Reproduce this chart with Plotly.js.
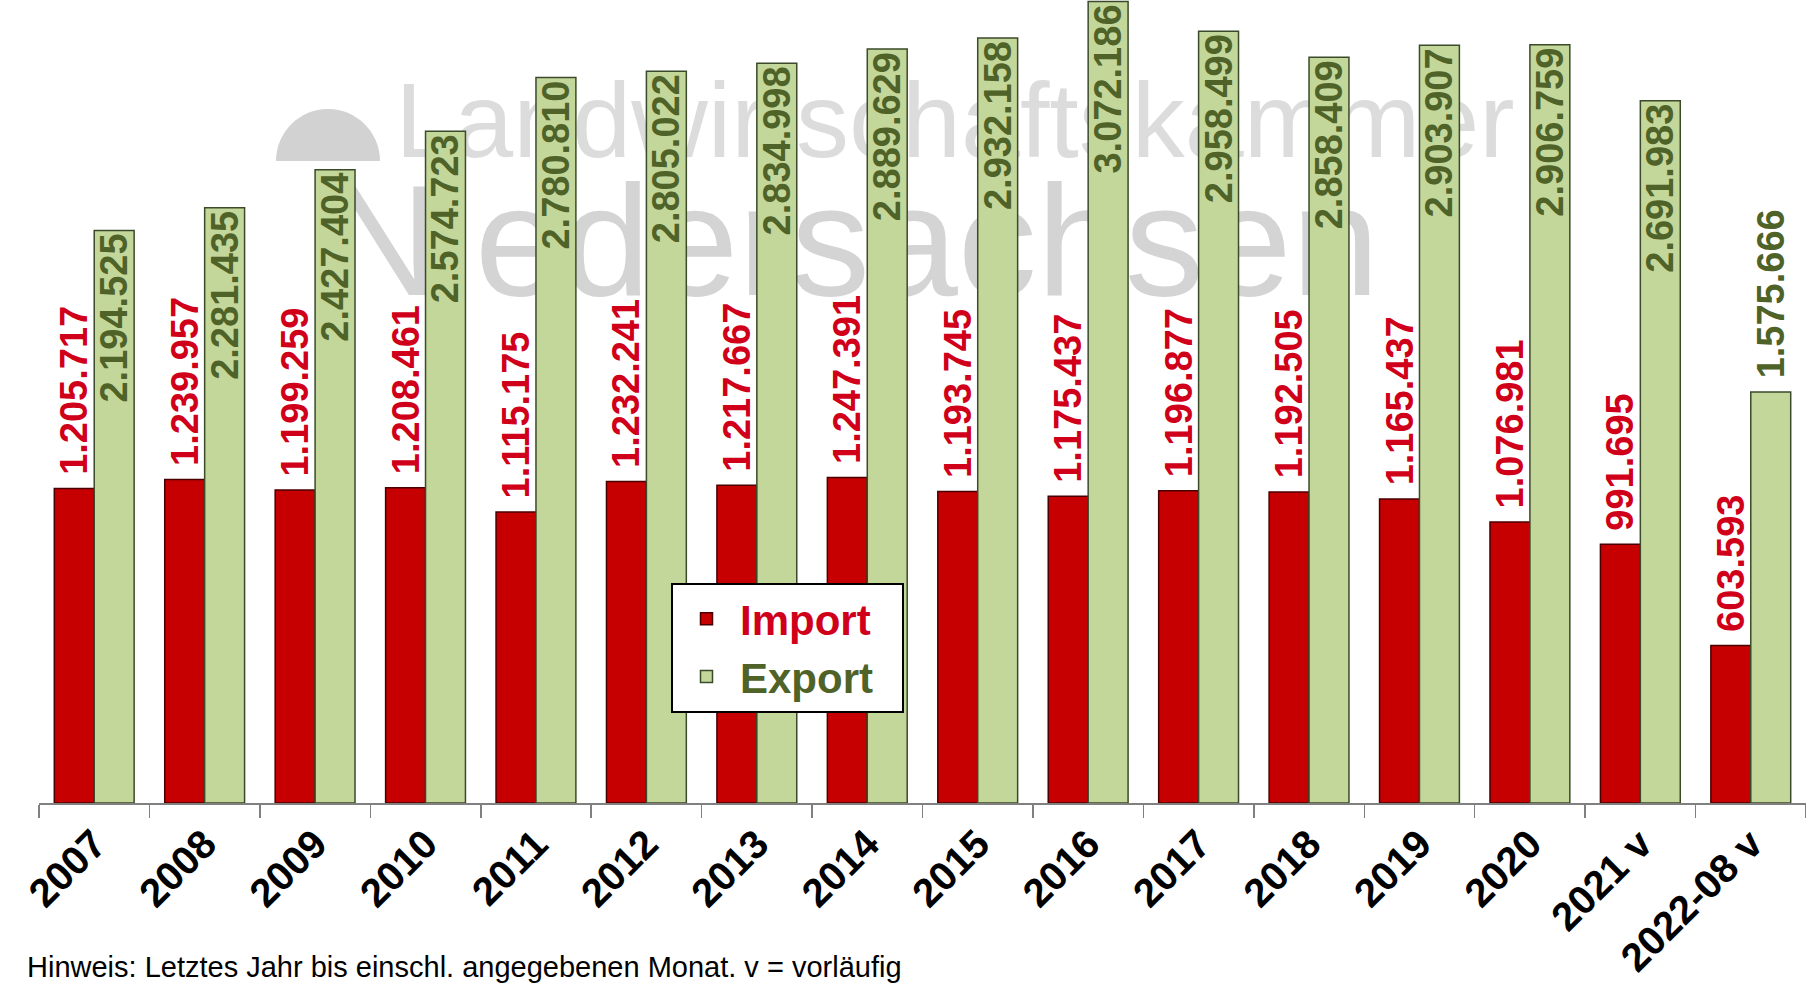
<!DOCTYPE html>
<html>
<head>
<meta charset="utf-8">
<script src="https://cdn.plot.ly/plotly-3.0.1.min.js"></script>
<style>html,body{margin:0;padding:0;background:#fff;}#chart{width:1806px;height:987px;}</style>
</head>
<body>
<div id="chart"></div>
<script>
const years = ['2007','2008','2009','2010','2011','2012','2013','2014','2015','2016','2017','2018','2019','2020','2021 v','2022-08 v'];
const importVals = [1205717,1239957,1199259,1208461,1115175,1232241,1217667,1247391,1193745,1175437,1196877,1192505,1165437,1076981,991695,603593];
const exportVals = [2194525,2281435,2427404,2574723,2780810,2805022,2834998,2889629,2932158,3072186,2958499,2858409,2903907,2906759,2691983,1575666];
const seriesNames = ['Import','Export'];
const noteText = 'Hinweis: Letztes Jahr bis einschl. angegebenen Monat. v = vorläufig';
const watermarkTop = 'Landwirtschaftskammer';
const watermarkBottom = 'Niedersachsen';

const fmt = v => String(v).replace(/\B(?=(\d{3})+(?!\d))/g, '.');
const RED = '#C60000', RED_TXT = '#D0001A', GREEN = '#C4D79B', GREEN_TXT = '#4F6228';
const FONT = 'Liberation Sans, Arial, sans-serif';
const labelSize = 38;
const pad = '\u00A0';

// plot geometry (px)
const W = 1806, H = 987, L = 39, B = 184, T = 0;
const plotW = W - L, plotH = H - B - T;
const px2x = p => (p - L) / plotW;
const py2y = p => (H - B - p) / plotH;

const exportPos = exportVals.map(v => v < 2000000 ? 'outside' : 'inside');
const legendName = (txt, col) => '<span style="color:' + col + '">' + txt + '\u00A0\u00A0</span>';

const traces = [
  {
    type: 'bar', name: legendName(seriesNames[0], RED_TXT),
    x: years, y: importVals, text: importVals.map(fmt),
    texttemplate: pad + '%{text}',
    textposition: 'outside', textangle: -90, constraintext: 'none', cliponaxis: false,
    outsidetextfont: {family: FONT, size: labelSize, color: RED_TXT, weight: 700},
    marker: {color: RED, line: {color: '#4A0000', width: 1.5}},
    hoverinfo: 'x+y'
  },
  {
    type: 'bar', name: legendName(seriesNames[1], GREEN_TXT),
    x: years, y: exportVals, text: exportVals.map(fmt),
    texttemplate: exportPos.map(p => p === 'outside' ? pad + '%{text}' : '%{text}'),
    textposition: exportPos, textangle: -90, insidetextanchor: 'end', constraintext: 'none', cliponaxis: false,
    insidetextfont: {family: FONT, size: labelSize, color: GREEN_TXT, weight: 700},
    outsidetextfont: {family: FONT, size: labelSize, color: GREEN_TXT, weight: 700},
    marker: {color: GREEN, line: {color: '#3B4A2A', width: 1.5}},
    hoverinfo: 'x+y'
  }
];

// decorative watermark dome (bezier semicircle), px coords
const cx = 328, cyb = 161, r = 52, k = 0.5523 * r;
const P = (x, y) => px2x(x).toFixed(5) + ',' + py2y(y).toFixed(5);
const domePath = 'M' + P(cx - r, cyb) +
  ' C' + P(cx - r, cyb - k) + ' ' + P(cx - k, cyb - r) + ' ' + P(cx, cyb - r) +
  ' C' + P(cx + k, cyb - r) + ' ' + P(cx + r, cyb - k) + ' ' + P(cx + r, cyb) + ' Z';

const layout = {
  width: W, height: H,
  margin: {l: L, r: 0, t: T, b: B, pad: 0},
  paper_bgcolor: '#ffffff', plot_bgcolor: 'rgba(0,0,0,0)',
  barmode: 'group', bargap: 0.277, bargroupgap: 0,
  font: {family: FONT, color: '#000'},
  showlegend: true,
  legend: {
    x: px2x(671), y: py2y(583), xanchor: 'left', yanchor: 'top',
    bgcolor: '#ffffff', bordercolor: '#000000', borderwidth: 2,
    font: {family: FONT, size: 42, weight: 700},
    traceorder: 'normal', itemwidth: 57, tracegroupgap: 0
  },
  xaxis: {
    type: 'category', tickson: 'boundaries', ticks: 'outside', ticklen: 13, tickwidth: 1.5,
    tickcolor: '#808080', showline: true, linecolor: '#808080', linewidth: 1.5,
    tickangle: -45, tickfont: {family: FONT, size: 40, color: '#000', weight: 700},
    showgrid: false, zeroline: false, fixedrange: true
  },
  yaxis: {
    range: [0, plotH / 260.9 * 1e6], visible: false, showgrid: false, zeroline: false, fixedrange: true
  },
  shapes: [
    {type: 'path', xref: 'paper', yref: 'paper', path: domePath, fillcolor: '#D2D2D2', line: {width: 0}, layer: 'below'},
    {type: 'rect', xref: 'paper', yref: 'paper', layer: 'below',
      x0: px2x(900), x1: px2x(1010), y0: py2y(120), y1: py2y(100),
      line: {width: 0}, fillcolor: 'rgba(0,0,0,0)',
      label: {text: watermarkTop, textposition: 'middle center', font: {family: FONT, size: 106, color: '#DCDCDC'}}},
    {type: 'rect', xref: 'paper', yref: 'paper', layer: 'below',
      x0: px2x(800), x1: px2x(905), y0: py2y(235), y1: py2y(215),
      line: {width: 0}, fillcolor: 'rgba(0,0,0,0)',
      label: {text: watermarkBottom, textposition: 'middle center', font: {family: FONT, size: 158, color: '#D4D4D4'}}}
  ],
  annotations: [
    {text: noteText, xref: 'paper', yref: 'paper', x: px2x(25), y: py2y(967),
     xanchor: 'left', yanchor: 'middle', showarrow: false,
     font: {family: FONT, size: 29, color: '#000'}}
  ]
};

Plotly.newPlot('chart', traces, layout, {displayModeBar: false, staticPlot: true});
</script>
</body>
</html>
